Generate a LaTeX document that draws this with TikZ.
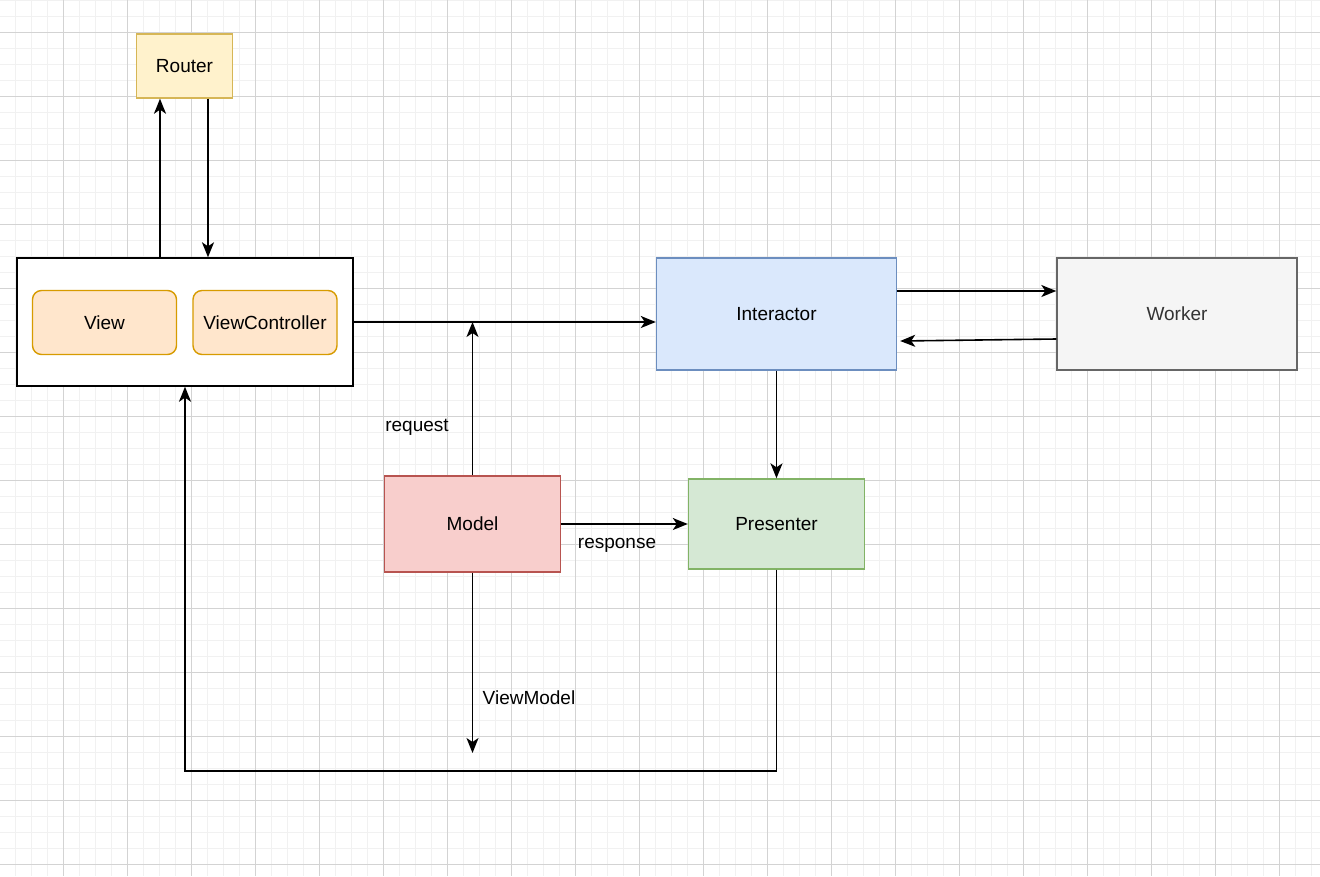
\documentclass[tikz,border=0pt]{standalone}
\usepackage{fontspec}
\setmainfont{Liberation Sans}
\usepackage{xcolor}
\usepackage{tikz}
\usetikzlibrary{arrows.meta,positioning,calc}
\definecolor{GridMajor}{HTML}{D3D3D3}
\definecolor{GridMinor}{HTML}{F1F1F1}
\definecolor{RouterFill}{HTML}{FFF2CC}
\definecolor{RouterLine}{HTML}{D6B656}
\definecolor{ViewFill}{HTML}{FFE6CC}
\definecolor{ViewLine}{HTML}{D79B00}
\definecolor{InteractorFill}{HTML}{DAE8FC}
\definecolor{InteractorLine}{HTML}{6C8EBF}
\definecolor{WorkerFill}{HTML}{F5F5F5}
\definecolor{WorkerLine}{HTML}{666666}
\definecolor{WorkerText}{HTML}{333333}
\definecolor{ModelFill}{HTML}{F8CECC}
\definecolor{ModelLine}{HTML}{B85450}
\definecolor{PresenterFill}{HTML}{D5E8D4}
\definecolor{PresenterLine}{HTML}{82B366}

\begin{document}
\begin{tikzpicture}[
  x=1pt, y=-1pt,
  font=\fontsize{19}{23}\selectfont,
  box/.style={draw, line width=1.4pt, inner sep=0pt, align=center},
  inner/.style={box, rounded corners=9pt, fill=ViewFill, draw=ViewLine,
    minimum width=144pt, minimum height=64pt},
  arrow/.style={-{Stealth[length=15pt,width=12pt,inset=4pt]}, line width=1.6pt},
  gridminor/.style={GridMinor, line width=1pt},
  gridmajor/.style={GridMajor, line width=1pt},
  lbl/.style={inner sep=0pt}
]
\useasboundingbox (0,0) rectangle (1320,876);
\fill[white] (0,0) rectangle (1320,876);

% grid
\foreach \gx in {-0.5,15.5,...,1320} \draw[gridminor] (\gx,0) -- (\gx,876);
\foreach \gy in {0,16,...,876} \draw[gridminor] (0,\gy) -- (1320,\gy);
\foreach \gx in {63.5,127.5,...,1320} \draw[gridmajor] (\gx,0) -- (\gx,876);
\foreach \gy in {32,96,...,876} \draw[gridmajor] (0,\gy) -- (1320,\gy);

% boxes
\node[box, fill=RouterFill, draw=RouterLine, minimum width=96pt, minimum height=64pt] (router) at (184.5,66) {Router};
\node[box, fill=white, draw=black, minimum width=336pt, minimum height=128pt] (scene) at (185,322) {};
\node[inner] (view) at (104.5,322.5) {View};
\node[inner] (viewctrl) at (265,322.5) {ViewController};
\node[box, fill=InteractorFill, draw=InteractorLine, minimum width=240pt, minimum height=112pt] (interactor) at (776.5,314) {Interactor};
\node[box, fill=WorkerFill, draw=WorkerLine, text=WorkerText, minimum width=240pt, minimum height=112pt] (worker) at (1177,314) {Worker};
\node[box, fill=ModelFill, draw=ModelLine, minimum width=176pt, minimum height=96pt] (model) at (472.5,524) {Model};
\node[box, fill=PresenterFill, draw=PresenterLine, minimum width=176pt, minimum height=90pt] (presenter) at (776.5,524) {Presenter};

\coordinate (vmend) at (472.5,753);

% connectors
\draw[arrow] ([xshift=-24.5pt]router.south |- scene.north) -- ([xshift=-24.5pt]router.south);
\draw[arrow] ([xshift=23.5pt]router.south) -- ([xshift=23.5pt]router.south |- scene.north);
\draw[arrow] (scene.east) -- (scene.east -| interactor.west);
\draw[arrow] (model.north) -- (model.north |- scene.east);
\draw[arrow] ([yshift=23pt]interactor.east) -- ([yshift=23pt]worker.west);
\draw[arrow] ([yshift=-25pt]worker.west) -- ([xshift=3pt,yshift=-27pt]interactor.east);
\draw[arrow] (interactor.south) -- (presenter.north);
\draw[arrow] (model.east) -- (presenter.west);
\draw[arrow] (model.south) -- (vmend);
\draw[arrow] (presenter.south) -- ++(0,201) -| (scene.south);

% labels
\node[lbl] (request) at (417,427) {request};
\node[lbl] (response) at (617,545) {response};
\node[lbl] (viewmodel) at (529,698) {ViewModel};
\end{tikzpicture}
\end{document}
